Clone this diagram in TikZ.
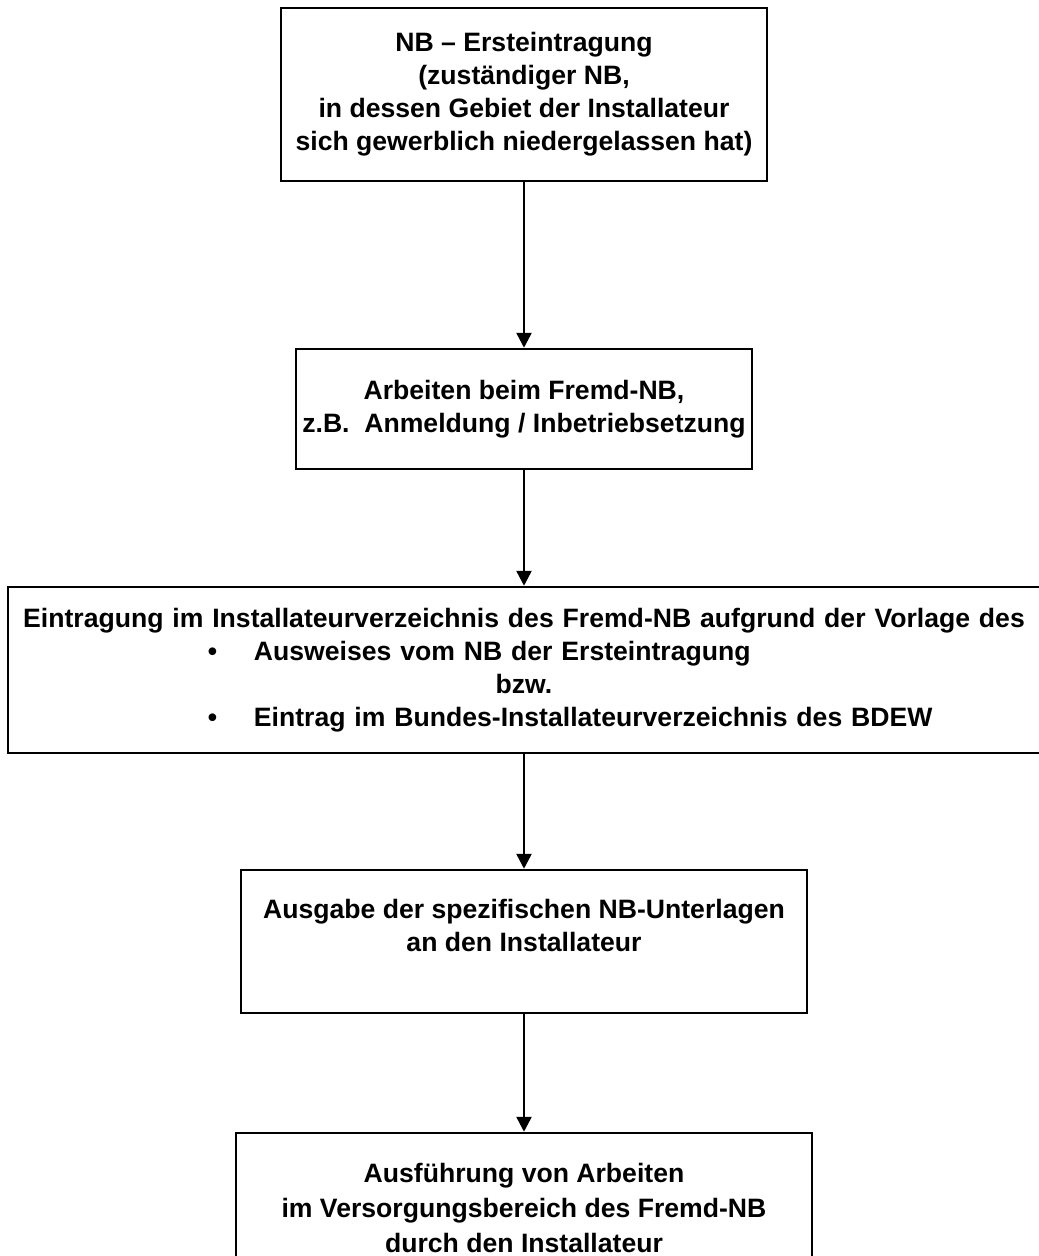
\documentclass[tikz,border=0pt]{standalone}
\usepackage{fontspec}
\setmainfont{Liberation Sans}
\usetikzlibrary{arrows.meta,positioning}

\begin{document}
\begin{tikzpicture}[x=1pt, y=-1pt,
  kasten/.style={draw, rectangle, line width=2.5pt, align=center, inner sep=0pt, font=\fontsize{26.6}{33}\selectfont\bfseries},
  pfeil/.style={-{Triangle[length=15pt,width=15pt]}, line width=2.5pt}]

\useasboundingbox (0,0) rectangle (1039,1256);

\node (erst) [kasten, minimum width=486pt, minimum height=173pt] at (524,94.5) {NB -- Ersteintragung\\(zuständiger NB,\\in dessen Gebiet der Installateur\\sich gewerblich niedergelassen hat)};

\node (fremd) [kasten, below of=erst, node distance=314.5pt, minimum width=456pt, minimum height=120pt] {Arbeiten beim Fremd-NB,\\z.B.\ \ Anmeldung / Inbetriebsetzung};

\node (eintrag) [kasten, below of=fremd, node distance=261pt, minimum width=1032pt, minimum height=166pt, text width=1032pt] {Eintragung im Installateurverzeichnis des Fremd-NB aufgrund der Vorlage des\\
\makebox[\linewidth][l]{\hspace*{200pt}\makebox[46pt][l]{\textbullet}Ausweises vom NB der Ersteintragung}\\
bzw.\\
\makebox[\linewidth][l]{\hspace*{200pt}\makebox[46pt][l]{\textbullet}Eintrag im Bundes-Installateurverzeichnis des BDEW}};

\node (ausgabe) [kasten, below of=eintrag, node distance=271.5pt, minimum width=566pt, minimum height=143pt] {Ausgabe der spezifischen NB-Unterlagen\\an den Installateur\\\mbox{}};

\node (arbeit) [kasten, below of=ausgabe, node distance=266.5pt, minimum width=576pt, minimum height=150pt, font=\fontsize{26.6}{35}\selectfont\bfseries] {Ausführung von Arbeiten\\im Versorgungsbereich des Fremd-NB\\durch den Installateur};

\draw[pfeil] (erst) -- (fremd);
\draw[pfeil] (fremd) -- (eintrag);
\draw[pfeil] (eintrag) -- (ausgabe);
\draw[pfeil] (ausgabe) -- (arbeit);

\end{tikzpicture}
\end{document}
